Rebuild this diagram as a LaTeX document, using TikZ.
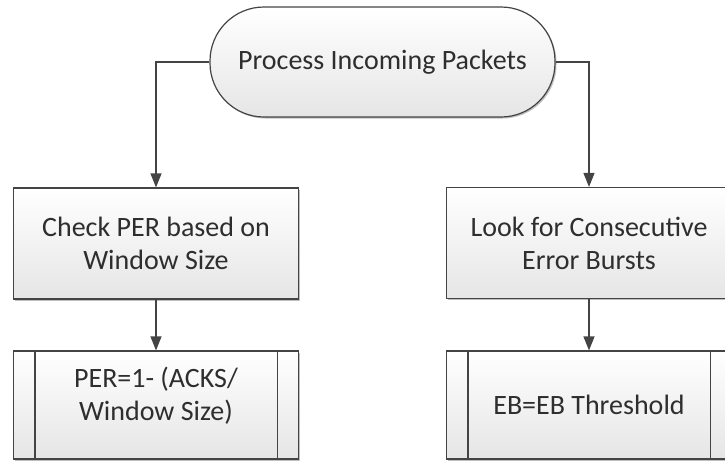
\documentclass[tikz,border=0pt]{standalone}
\usepackage{fontspec}
\setmainfont{Carlito}
\usetikzlibrary{arrows.meta,shadows,calc}

\definecolor{edge}{HTML}{444444}
\definecolor{ink}{HTML}{2E2E2E}

\tikzset{
  boxbase/.style={draw=edge, line width=1.2pt,
    top color=white, bottom color=black!10,
    drop shadow={shadow xshift=1.5pt, shadow yshift=-1.5pt, opacity=0.25, fill=black},
    text=ink, align=center, inner sep=0pt,
    font=\fontsize{28}{33}\selectfont},
  procbox/.style={boxbase, rectangle, minimum width=285pt, minimum height=111pt},
  predef/.style={boxbase, rectangle, minimum width=285pt, minimum height=108pt},
  termbox/.style={boxbase, rectangle, rounded corners=54pt, minimum width=345pt, minimum height=110pt},
  flow/.style={draw=edge, line width=1.2pt, -{Triangle[length=14pt,width=11pt]}},
  barline/.style={draw=edge, line width=1.2pt},
  label/.style={text=ink, align=center, inner sep=0pt, font=\fontsize{28}{33}\selectfont}
}

\begin{document}
\begin{tikzpicture}[x=1pt,y=-1pt]
  \useasboundingbox (0,0) rectangle (725,461);
  \clip (0,0) rectangle (725,461);

  % start terminator
  \node[termbox] (term) at (382.5,62) {Process Incoming Packets};

  % process steps
  \node[procbox] (chk) at (156,243.5) {Check PER based on\\Window Size};
  \node[procbox] (look) at (589,243) {Look for Consecutive\\Error Bursts};

  % predefined-process steps
  \node[predef] (per) at (156,405) {};
  \node[label] (pertext) at (156,396) {PER=1- (ACKS/\\Window Size)};
  \node[predef] (eb) at (589,405) {};
  \node[label] (ebtext) at (589,405) {EB=EB Threshold};

  % side bars of the predefined-process boxes
  \foreach \n in {per,eb}{
    \draw[barline] ([xshift=22pt]\n.north west) -- ([xshift=22pt]\n.south west);
    \draw[barline] ([xshift=-22pt]\n.north east) -- ([xshift=-22pt]\n.south east);
  }

  % connectors
  \draw[flow] (term.west) -| (chk.north);
  \draw[flow] (term.east) -| (look.north);
  \draw[flow] (chk.south) -- (per.north);
  \draw[flow] (look.south) -- (eb.north);
\end{tikzpicture}
\end{document}
